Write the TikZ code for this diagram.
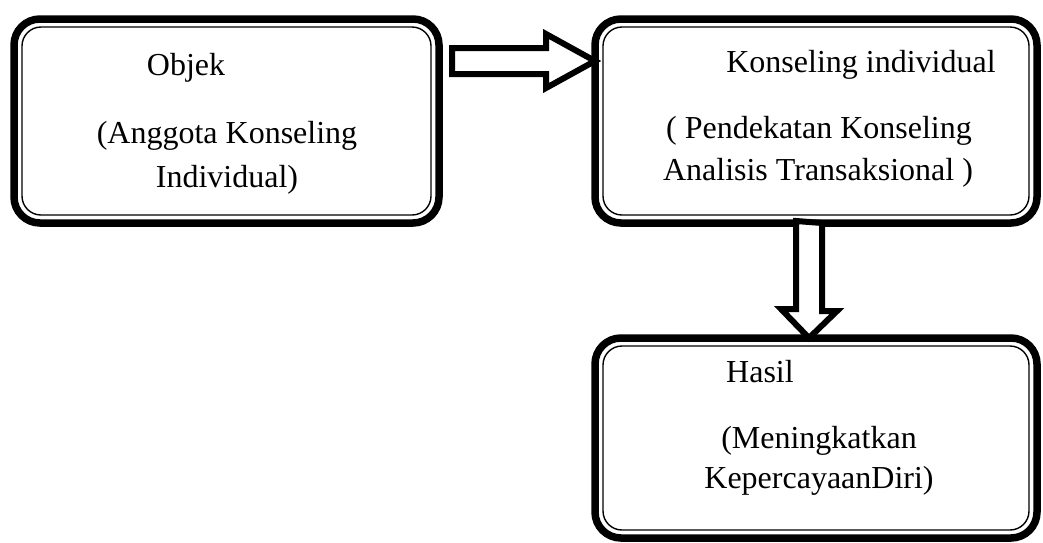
\documentclass[tikz,border=0pt]{standalone}
\usepackage{fontspec}
\setmainfont{Liberation Serif}
\usepackage{tikz}
\usetikzlibrary{positioning,calc}

\begin{document}
\begin{tikzpicture}[x=1pt,y=-1pt,
		box/.style={shape=rectangle,draw,line width=7.5pt,rounded corners=26pt,outer sep=0pt},
		innerline/.style={line width=1.4pt,rounded corners=19pt},
		txt/.style={anchor=base,inner sep=0pt,font=\fontsize{32}{38}\selectfont},
		blockarrow/.style={draw,fill=white,line width=6pt,line join=miter}]
					\useasboundingbox (0,0) rectangle (1043,542);

					\node (objek) [box,minimum width=425pt,minimum height=204pt] at (226.5,121) {};
					\node (konseling) [box,minimum width=442pt,minimum height=204pt] [right=156pt of objek] {};
					\node (hasil) [box,minimum width=442pt,minimum height=200pt] [below=115pt of konseling] {};

					\foreach \b in {objek,konseling,hasil}
						\draw[innerline] ([shift={(8pt,-8pt)}]\b.north west) rectangle ([shift={(-8pt,8pt)}]\b.south east);

					\node[txt] (objekA) at (186,75) {Objek};
					\node[txt] (objekB) at (227,143) {(Anggota Konseling};
					\node[txt] (objekC) at (227,187) {Individual)};
					\node[txt] (konselingA) at (861,72) {Konseling individual};
					\node[txt] (konselingB) at (819,138) {( Pendekatan Konseling};
					\node[txt] (konselingC) at (818,180) {Analisis Transaksional )};
					\node[txt] (hasilA) at (760,382) {Hasil};
					\node[txt] (hasilB) at (819,448) {(Meningkatkan};
					\node[txt] (hasilC) at (819,488) {KepercayaanDiri)};

					\coordinate (tailA) at ([shift={(13pt,-42pt)}]objek.north east);
					\coordinate (tipA) at (tailA -| konseling.west);
					\coordinate (tailB) at ([shift={(-7pt,2pt)}]konseling.south);
					\coordinate (tipB) at (tailB |- hasil.north);

					\draw[blockarrow] (tailA) ++(0,-13) -- ++(94,0) -- ++(0,-14) -- (tipA)
						-- ++(-49,27) -- ++(0,-14) -- ++(-94,0) -- cycle;
					\draw[blockarrow] (tailB) ++(-13,0) -- ++(0,88) -- ++(-15,0) -- (tipB)
						-- ++(28,-27) -- ++(-15,0) -- ++(0,-88) -- cycle;
				\end{tikzpicture}
\end{document}
